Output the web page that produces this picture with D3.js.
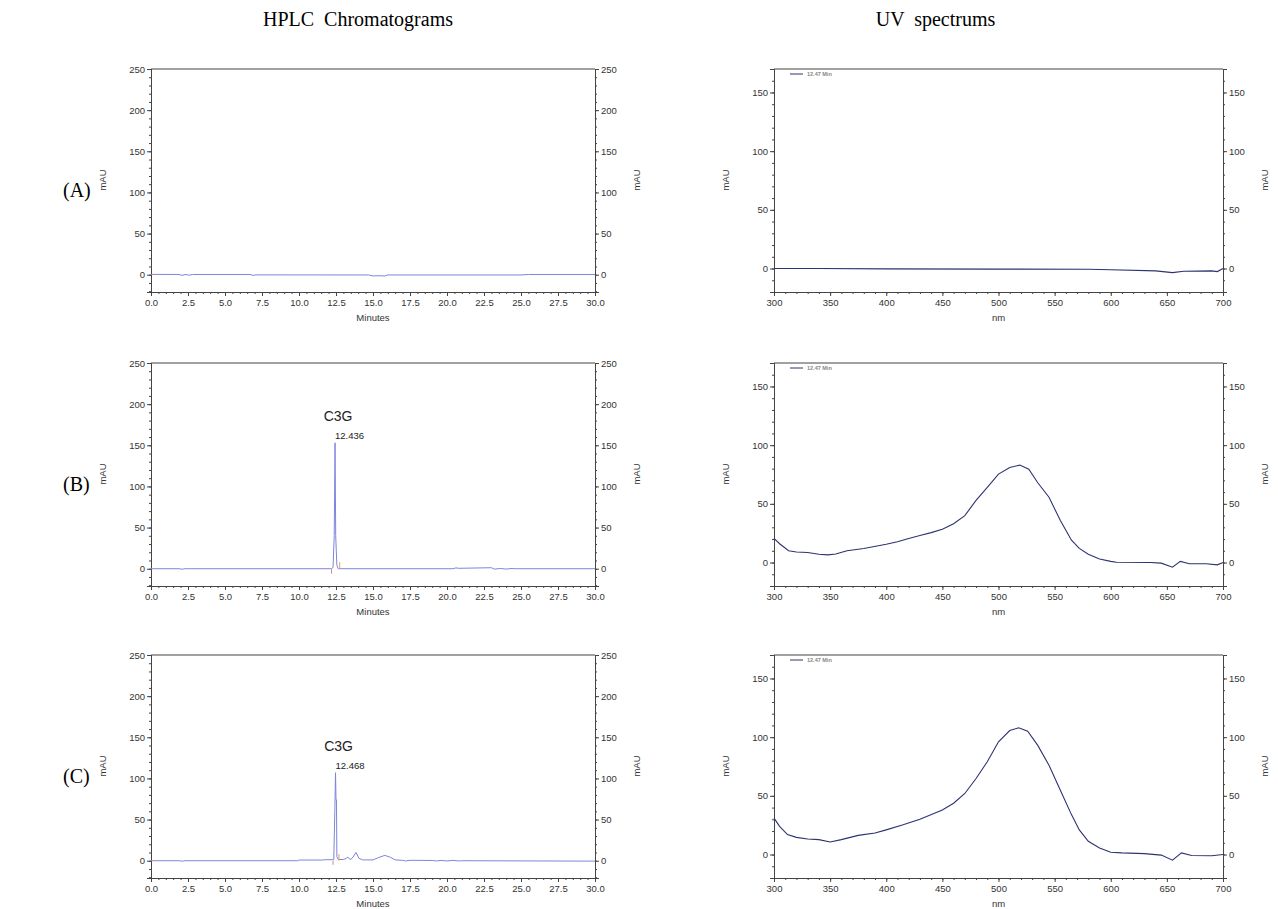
<!DOCTYPE html>
<html>
<head>
<meta charset="utf-8">
<script src="https://cdn.jsdelivr.net/npm/d3@7"></script>
<style>
  body { margin: 0; background: #fff; }
  svg { display: block; }
  .tick text { font-family: "Liberation Sans", Arial, sans-serif; font-size: 9.5px; fill: #333; }
  .domain, .tick line { stroke: #444; }
</style>
</head>
<body>
<svg id="chart" width="1278" height="909"></svg>
<script>
// ---- data ----
const rowLabels = ["(A)", "(B)", "(C)"];
const columnTitles = ["HPLC  Chromatograms", "UV  spectrums"];

// chromatograms: [minutes, mAU]
const chromA = [[0,0.4],[1.9,0.3],[2.1,-0.8],[2.3,0.2],[2.6,-0.5],[2.8,0.3],[6.7,0.3],[6.9,-0.8],[7.1,-0.2],
  [14.7,-0.3],[15.0,-1.5],[15.4,-1.2],[15.8,-1.5],[16.0,-0.3],[25.0,-0.3],[25.5,0.3],[30,0.3]];
const chromB = [[0,0],[1.9,0],[2.1,-0.6],[2.3,0],[12.2,0],[12.3,1.5],[12.38,40],[12.436,153],[12.48,40],
  [12.52,22],[12.56,4],[12.65,0],[20.4,0],[20.6,1],[20.8,0.5],[23.0,1.2],[23.2,-0.5],[23.6,0.3],
  [24.0,-0.4],[24.4,0.3],[24.6,0],[30,0]];
const chromC = [[0,0],[1.9,0],[2.1,-0.6],[2.3,0],[9.9,0],[10.0,0.8],[11.6,0.8],[11.7,1.2],[12.35,1.2],
  [12.42,60],[12.468,107],[12.5,74],[12.53,74],[12.56,5],[12.65,1.5],[13.0,1.5],[13.2,3],[13.3,4.5],
  [13.45,1.5],[13.6,3],[13.85,10],[14.05,3],[14.3,1],[15.0,1],[15.4,4],[15.8,6.5],[16.2,4],[16.5,1],
  [17.0,0.5],[17.2,-0.3],[17.5,0.5],[19.0,0.3],[19.3,-0.3],[19.6,0.4],[20.0,-0.3],[20.4,0.4],
  [20.8,-0.3],[21.0,0],[30,-0.5]];
// integration markers: [minutes, mAU]
const markersB = [[12.2,-6],[12.75,8]];
const markersC = [[12.3,-5],[12.7,8]];
const peakB = { t: 12.436, v: 153, name: "C3G", label: "12.436" };
const peakC = { t: 12.468, v: 107, name: "C3G", label: "12.468" };

// UV spectra at 12.47 min: [nm, mAU]
const uvA = [[300,0],[340,0],[400,-0.3],[500,-0.5],[580,-0.6],[600,-1],[640,-2],[655,-3.5],[665,-2.3],
  [690,-2],[695,-2.6],[700,0]];
const uvB = [[300,20.5],[305,16],[313,10],[320,9],[330,8.5],[340,7],[348,6.5],[355,7.3],[365,10],
  [380,12],[400,15.5],[410,17.7],[420,20.5],[430,23],[440,25.5],[450,28.4],[460,33],[470,40],
  [480,53],[490,64],[500,75.3],[510,81],[519,83],[527,79.5],[535,68],[545,55.6],[555,36],[565,19],
  [572,12],[580,7],[590,3],[600,1],[605,0.2],[635,0],[645,-0.5],[655,-4],[662,1],[670,-1],
  [685,-1],[695,-2],[700,0]];
const uvC = [[300,31],[305,24],[312,17],[320,14.6],[330,13.2],[340,12.7],[350,10.7],[360,12.7],
  [375,16.3],[390,18.3],[400,21],[415,25.3],[430,30],[450,38],[460,43.7],[470,52],[480,64.8],
  [490,79],[500,96],[510,105.6],[518,108],[526,105],[535,93],[545,76],[555,55],[565,34],[572,21],
  [580,11.3],[590,5.6],[600,2],[610,1.4],[630,0.8],[645,-0.5],[655,-4.8],[663,1.4],[672,-0.8],
  [690,-1],[700,0]];

const chromX = [0, 30], chromY = [-21, 250];
const uvX = [300, 700], uvY = [-20, 170];
const legendText = "12.47 Min";

// ---- layout ----
const svg = d3.select("#chart");
const rowTops = [69, 363, 655];
const panelH = 223;
const chromL = 151, chromR = 595;
const uvL = 774, uvR = 1223;
const serif = "'Liberation Serif', 'Times New Roman', serif";
const sans = "'Liberation Sans', Arial, sans-serif";

svg.selectAll("text.col").data(columnTitles).enter().append("text")
  .attr("x", (d, i) => i === 0 ? (chromL + chromR) / 2 - 15 : (uvL + uvR) / 2 - 63)
  .attr("y", 26)
  .attr("text-anchor", "middle")
  .attr("font-family", serif).attr("font-size", 20)
  .style("white-space", "pre")
  .text(d => d);

svg.selectAll("text.row").data(rowLabels).enter().append("text")
  .attr("x", 63).attr("y", (d, i) => rowTops[i] + 128)
  .attr("font-family", serif).attr("font-size", 20)
  .text(d => d);

function range(a, b, step) {
  const out = [];
  for (let v = a; v <= b + 1e-9; v += step) out.push(+v.toFixed(4));
  return out;
}

function panel(top, left, right, xd, yd, opts) {
  const g = svg.append("g");
  const x = d3.scaleLinear().domain(xd).range([left, right]);
  const y = d3.scaleLinear().domain(yd).range([top + panelH, top]);
  const bottom = top + panelH;

  const minorY = range(opts.yMinorStart, yd[1], opts.yMinor);
  const majorY = range(0, yd[1], opts.yMajor);
  const minorX = range(xd[0], xd[1], opts.xMinor);
  const majorX = range(xd[0], xd[1], opts.xMajor);

  // minor ticks
  g.append("g").attr("transform", `translate(${left},0)`)
    .call(d3.axisLeft(y).tickValues(minorY).tickSize(2).tickFormat(""));
  g.append("g").attr("transform", `translate(${right},0)`)
    .call(d3.axisRight(y).tickValues(minorY).tickSize(2).tickFormat(""));
  g.append("g").attr("transform", `translate(0,${bottom})`)
    .call(d3.axisBottom(x).tickValues(minorX).tickSize(2).tickFormat(""));

  // major ticks + labels
  g.append("g").attr("transform", `translate(${left},0)`)
    .call(d3.axisLeft(y).tickValues(majorY).tickSize(4).tickPadding(2).tickFormat(d3.format("d")));
  g.append("g").attr("transform", `translate(${right},0)`)
    .call(d3.axisRight(y).tickValues(majorY).tickSize(4).tickPadding(2).tickFormat(d3.format("d")));
  g.append("g").attr("transform", `translate(0,${bottom})`)
    .call(d3.axisBottom(x).tickValues(majorX).tickSize(4).tickPadding(3).tickFormat(d3.format(opts.xFormat)));

  g.selectAll(".domain").attr("stroke", "#444");
  g.append("line").attr("x1", left).attr("x2", right).attr("y1", top).attr("y2", top)
    .attr("stroke", "#444");

  g.append("text").attr("x", (left + right) / 2).attr("y", bottom + 29)
    .attr("text-anchor", "middle").attr("font-family", sans).attr("font-size", 9.5).attr("fill", "#333")
    .text(opts.xTitle);
  [left - 45, right + 45].forEach(cx => {
    g.append("text").attr("transform", `translate(${cx},${top + 111}) rotate(-90)`)
      .attr("text-anchor", "middle").attr("font-family", sans).attr("font-size", 9.5).attr("fill", "#333")
      .text("mAU");
  });
  return { g, x, y };
}

const chromOpts = { yMinorStart: -20, yMinor: 10, yMajor: 50, xMinor: 0.5, xMajor: 2.5, xFormat: ".1f", xTitle: "Minutes" };
const uvOpts = { yMinorStart: -20, yMinor: 10, yMajor: 50, xMinor: 10, xMajor: 50, xFormat: "d", xTitle: "nm" };

const chroms = [chromA, chromB, chromC];
const markers = [[], markersB, markersC];
const peaks = [null, peakB, peakC];
const uvs = [uvA, uvB, uvC];

chroms.forEach((data, i) => {
  const p = panel(rowTops[i], chromL, chromR, chromX, chromY, chromOpts);
  const line = d3.line().x(d => p.x(d[0])).y(d => p.y(d[1]));
  p.g.append("path").datum(data).attr("d", line)
    .attr("fill", "none").attr("stroke", "#7f84dc").attr("stroke-width", 1);
  p.g.selectAll("line.mark").data(markers[i]).enter().append("line")
    .attr("x1", d => p.x(d[0])).attr("x2", d => p.x(d[0]))
    .attr("y1", p.y(0)).attr("y2", d => p.y(d[1]))
    .attr("stroke", (d, k) => k === 0 ? "#d98a8a" : "#e0a070").attr("stroke-width", 1);
  const pk = peaks[i];
  if (pk) {
    p.g.append("text").attr("x", p.x(pk.t)).attr("y", p.y(pk.v) - 4)
      .attr("font-family", sans).attr("font-size", 9.5).attr("fill", "#222").text(pk.label);
    p.g.append("text").attr("x", p.x(pk.t) + 3).attr("y", p.y(pk.v) - 22)
      .attr("text-anchor", "middle").attr("font-family", sans).attr("font-size", 14).attr("fill", "#222")
      .text(pk.name);
  }
});

uvs.forEach((data, i) => {
  const p = panel(rowTops[i], uvL, uvR, uvX, uvY, uvOpts);
  const line = d3.line().x(d => p.x(d[0])).y(d => p.y(d[1]));
  p.g.append("path").datum(data).attr("d", line)
    .attr("fill", "none").attr("stroke", "#2e3270").attr("stroke-width", 1.1);
  const ly = rowTops[i] + 5;
  p.g.append("line").attr("x1", uvL + 16).attr("x2", uvL + 29).attr("y1", ly).attr("y2", ly)
    .attr("stroke", "#2e3270").attr("stroke-width", 1);
  p.g.append("text").attr("x", uvL + 33).attr("y", ly + 2)
    .attr("font-family", sans).attr("font-size", 5.5).attr("font-weight", "bold").attr("fill", "#888")
    .text(legendText);
});
</script>
</body>
</html>
